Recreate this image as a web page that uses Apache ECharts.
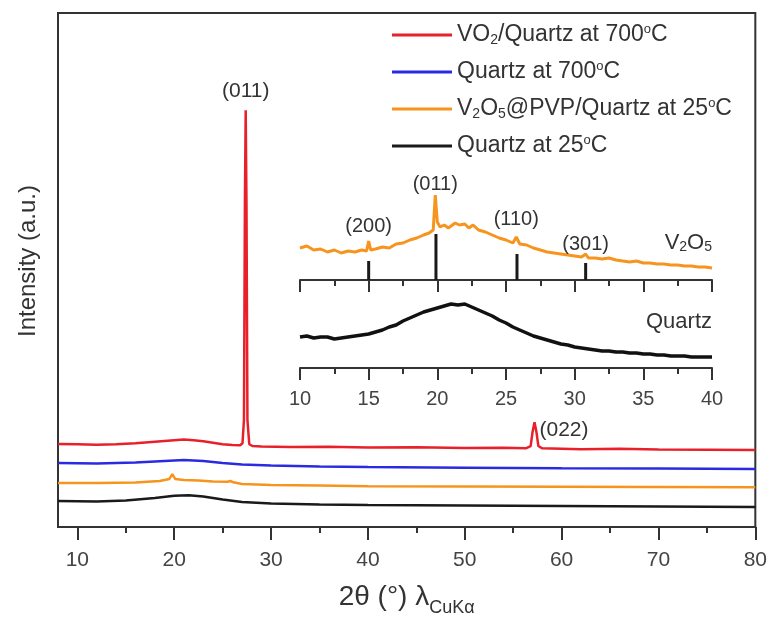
<!DOCTYPE html>
<html>
  <head>
    <title></title>
    <meta charset="UTF-8" />
    <script src="https://cdn.jsdelivr.net/npm/echarts@6/dist/echarts.min.js"></script>
  </head>
  <body style="margin:0;background:#fff">
    <div id="main"></div>
    <script>
      const width = 770;
      const height = 623;
      const main = document.getElementById('main');
      main.style.width = `${width}px`;
      main.style.height = `${height}px`;

      // main panel ticks
      const xTicks = [10, 20, 30, 40, 50, 60, 70, 80];
      const xMinorTicks = [15, 25, 35, 45, 55, 65, 75];
      const insetTicks = [10, 15, 20, 25, 30, 35, 40];

      // main traces, 2theta vs intensity (a.u., stacked offsets)
      const vo2Quartz700 = [
        [8, 16.15], [10, 16.1], [12, 16.0], [14, 16.1], [16, 16.3], [18, 16.6], [20, 16.9],
        [21, 17.0], [22, 16.9], [23, 16.7], [24, 16.4], [25, 16.1], [26, 15.95], [26.8, 15.9],
        [27.05, 16.3], [27.2, 20.8], [27.3, 63.6], [27.38, 81.1], [27.46, 63], [27.56, 20.8],
        [27.75, 16.1], [28.1, 15.75], [29, 15.65], [32, 15.55], [36, 15.6], [40, 15.45],
        [45, 15.5], [50, 15.35], [54, 15.4], [56.3, 15.3], [56.8, 15.75], [57.0, 18.5],
        [57.2, 20.4], [57.4, 18.5], [57.6, 15.75], [58, 15.3], [62, 15.15], [66, 15.2],
        [70, 15.1], [75, 15.05], [80, 15.0]
      ];
      const quartz700 = [
        [8, 12.45], [12, 12.35], [16, 12.55], [19, 12.85], [21, 13.05], [23, 12.85], [25, 12.45],
        [27, 12.15], [30, 11.95], [35, 11.75], [40, 11.65], [50, 11.55], [60, 11.45], [70, 11.4],
        [80, 11.3]
      ];
      const v2o5Quartz25 = [
        [8, 8.55], [12, 8.55], [16, 8.65], [18.5, 8.95], [19.5, 9.35], [19.8, 10.3], [20.1, 9.35],
        [21, 9.15], [22.5, 9.05], [24, 8.85], [25.5, 8.8], [25.8, 8.95], [26.1, 8.7], [27, 8.35],
        [30, 8.15], [35, 8.05], [40, 7.95], [50, 7.9], [60, 7.85], [70, 7.8], [80, 7.75]
      ];
      const quartz25 = [
        [8, 5.05], [12, 4.95], [15, 5.15], [18, 5.65], [20, 6.1], [21.5, 6.2], [23, 5.95],
        [25, 5.35], [27, 4.85], [30, 4.55], [35, 4.4], [40, 4.3], [50, 4.2], [60, 4.1],
        [70, 4.0], [80, 3.9]
      ];

      // inset traces
      const insetV2O5 = [
        [10, 32], [10.5, 34], [11, 30], [11.5, 31], [12, 28], [12.5, 30], [13, 27], [13.5, 29],
        [14, 28], [14.5, 30], [14.85, 29], [15, 39], [15.15, 30], [15.5, 31], [16, 33], [16.5, 32],
        [17, 36], [17.5, 37], [18, 40], [18.5, 42], [19, 45], [19.4, 47], [19.7, 50], [19.85, 85],
        [20.0, 58], [20.2, 53], [20.5, 55], [20.8, 52], [21, 54], [21.3, 57], [21.6, 55], [22, 56],
        [22.3, 52], [22.6, 55], [23, 50], [23.5, 48], [24, 45], [24.5, 42], [25, 40], [25.5, 37],
        [25.75, 43], [26, 36], [26.5, 35], [27, 32], [27.5, 30], [28, 28], [28.5, 27], [29, 26],
        [29.5, 25], [30, 24], [30.5, 23], [30.8, 26], [31, 22], [31.5, 22], [32, 21], [32.5, 22],
        [33, 20], [33.5, 19], [34, 18], [34.5, 19], [35, 17], [35.5, 17], [36, 16], [36.5, 16],
        [37, 15], [37.5, 15], [38, 14], [38.5, 14], [39, 13], [39.5, 13], [40, 12]
      ];
      const insetQuartz = [
        [10, 31], [10.5, 32], [11, 30], [11.5, 31], [12, 31], [12.5, 29], [13, 30], [13.5, 31],
        [14, 32], [14.5, 33], [15, 34], [15.5, 36], [16, 38], [16.5, 41], [17, 43], [17.5, 47],
        [18, 50], [18.5, 53], [19, 56], [19.5, 58], [20, 60], [20.5, 62], [21, 64], [21.5, 63],
        [22, 64], [22.5, 61], [23, 58], [23.5, 55], [24, 52], [24.5, 48], [25, 45], [25.5, 41],
        [26, 38], [26.5, 35], [27, 32], [27.5, 30], [28, 28], [28.5, 26], [29, 24], [29.5, 23],
        [30, 21], [30.5, 20], [31, 19], [31.5, 18], [32, 17], [32.5, 17], [33, 16], [33.5, 16],
        [34, 15], [34.5, 15], [35, 14], [35.5, 14], [36, 13], [36.5, 13], [37, 12], [37.5, 12],
        [38, 12], [38.5, 11], [39, 11], [39.5, 11], [40, 11]
      ];
      // V2O5 reference pattern sticks
      const v2o5Sticks = [[15, 19], [19.9, 46], [25.8, 26], [30.8, 17]];

      const peakLabels = { 15: '(200)', 19.85: '(011)', 25.75: '(110)', 30.8: '(301)' };
      const peakGap = { 15: 5, 19.85: 1, 25.75: 8, 30.8: 0 };

      const font = "'Liberation Sans', Arial, sans-serif";
      const ink = '#333';
      const sub = { fontSize: 14, verticalAlign: 'bottom', lineHeight: 14, fontFamily: font };
      const sup = { fontSize: 13, verticalAlign: 'top', lineHeight: 4, fontFamily: font };

      const names = [
        'VO{sub|2}/Quartz at 700{sup|o}C',
        'Quartz at 700{sup|o}C',
        'V{sub|2}O{sub|5}@PVP/Quartz at 25{sup|o}C',
        'Quartz at 25{sup|o}C'
      ];
      const colors = ['#e8202a', '#2a2ae2', '#f7941e', '#1a1a1a'];

      const myChart = echarts.init(main);
      const option = {
        animation: false,
        textStyle: { fontFamily: font },
        legend: {
          orient: 'vertical',
          left: 392,
          top: 23,
          padding: 0,
          itemWidth: 60,
          itemHeight: 3,
          itemGap: 13,
          icon: 'rect',
          data: names,
          formatter: (n) => n,
          textStyle: {
            fontSize: 23,
            lineHeight: 24,
            color: ink,
            fontFamily: font,
            rich: { sub: sub, sup: sup }
          }
        },
        grid: [
          { left: 58, top: 13, width: 698, height: 514, show: true, borderColor: ink, borderWidth: 2 },
          { left: 300, top: 170, width: 412, height: 110 },
          { left: 300, top: 290, width: 412, height: 78 }
        ],
        xAxis: [
          {
            gridIndex: 0, type: 'value', min: 8, max: 80, position: 'bottom',
            name: '2θ (°) λ{s|CuKα}',
            nameLocation: 'middle',
            nameGap: 56,
            nameTextStyle: {
              fontSize: 28, color: ink, fontFamily: font,
              rich: { s: { fontSize: 18, verticalAlign: 'bottom', lineHeight: 16, padding: [0, 0, -6, 0], fontFamily: font, color: ink } }
            },
            axisLine: { lineStyle: { color: ink, width: 2 } },
            axisTick: { customValues: xTicks, length: 13, lineStyle: { color: ink, width: 2 } },
            axisLabel: { customValues: xTicks, fontSize: 21, color: '#444', margin: 23 },
            splitLine: { show: false }
          },
          {
            gridIndex: 0, type: 'value', min: 8, max: 80, position: 'bottom',
            axisLine: { show: false },
            axisTick: { customValues: xMinorTicks, length: 6, lineStyle: { color: ink, width: 2 } },
            axisLabel: { show: false },
            splitLine: { show: false }
          },
          {
            gridIndex: 1, type: 'value', min: 10, max: 40, interval: 5,
            axisLine: { lineStyle: { color: ink, width: 2 } },
            axisTick: { length: 12, lineStyle: { color: ink, width: 2 } },
            minorTick: { show: true, splitNumber: 2, length: 6, lineStyle: { color: ink, width: 2 } },
            axisLabel: { show: false },
            splitLine: { show: false }
          },
          {
            gridIndex: 2, type: 'value', min: 10, max: 40, interval: 5,
            axisLine: { lineStyle: { color: ink, width: 2 } },
            axisTick: { length: 12, lineStyle: { color: ink, width: 2 } },
            minorTick: { show: true, splitNumber: 2, length: 6, lineStyle: { color: ink, width: 2 } },
            axisLabel: { customValues: insetTicks, fontSize: 20, color: '#444', margin: 21 },
            splitLine: { show: false }
          }
        ],
        yAxis: [
          {
            gridIndex: 0, type: 'value', min: 0, max: 100,
            name: 'Intensity (a.u.)',
            nameLocation: 'middle',
            nameGap: 18,
            nameTextStyle: { fontSize: 24, color: ink, padding: [0, 0, 0, 18] },
            axisLine: { show: true, lineStyle: { color: ink, width: 2 } },
            axisTick: { show: false },
            axisLabel: { show: false },
            splitLine: { show: false }
          },
          { gridIndex: 1, type: 'value', min: 0, max: 110, show: false, splitLine: { show: false } },
          { gridIndex: 2, type: 'value', min: 0, max: 78, show: false, splitLine: { show: false } }
        ],
        series: [
          {
            name: names[0], type: 'line', xAxisIndex: 0, yAxisIndex: 0, symbolSize: 0,
            color: colors[0], lineStyle: { width: 2.5 },
            data: vo2Quartz700.map((d) =>
              d[0] === 27.38
                ? { value: d, label: { show: true, position: 'top', distance: 8, formatter: '(011)', fontSize: 21, color: ink } }
                : d[0] === 57.2
                ? { value: d, label: { show: true, position: 'right', distance: 5, offset: [0, 8], formatter: '(022)', fontSize: 21, color: ink } }
                : d
            )
          },
          {
            name: names[1], type: 'line', xAxisIndex: 0, yAxisIndex: 0, showSymbol: false,
            color: colors[1], lineStyle: { width: 2.5 }, data: quartz700
          },
          {
            name: names[2], type: 'line', xAxisIndex: 0, yAxisIndex: 0, showSymbol: false,
            color: colors[2], lineStyle: { width: 2.5 }, data: v2o5Quartz25
          },
          {
            name: names[3], type: 'line', xAxisIndex: 0, yAxisIndex: 0, showSymbol: false,
            color: colors[3], lineStyle: { width: 2.5 }, data: quartz25
          },
          {
            type: 'line', xAxisIndex: 2, yAxisIndex: 1, symbolSize: 0,
            color: colors[2], lineStyle: { width: 3 },
            data: insetV2O5.map((d, i) => {
              if (peakLabels[d[0]] !== undefined) {
                return { value: d, label: { show: true, position: 'top', distance: peakGap[d[0]], formatter: peakLabels[d[0]], fontSize: 20, color: ink } };
              }
              if (i === insetV2O5.length - 1) {
                return { value: d, label: { show: true, position: 'top', align: 'right', distance: 14, formatter: 'V{sub|2}O{sub|5}', fontSize: 22, color: ink, rich: { sub: sub } } };
              }
              return d;
            })
          },
          {
            type: 'bar', xAxisIndex: 2, yAxisIndex: 1, barWidth: 3,
            itemStyle: { color: '#1a1a1a' }, data: v2o5Sticks
          },
          {
            type: 'line', xAxisIndex: 3, yAxisIndex: 2, symbolSize: 0,
            color: '#111', lineStyle: { width: 3.5 },
            data: insetQuartz.map((d, i) =>
              i === insetQuartz.length - 1
                ? { value: d, label: { show: true, position: 'top', align: 'right', distance: 24, formatter: 'Quartz', fontSize: 22, color: ink } }
                : d
            )
          }
        ]
      };
      myChart.setOption(option);
    </script>
  </body>
</html>
